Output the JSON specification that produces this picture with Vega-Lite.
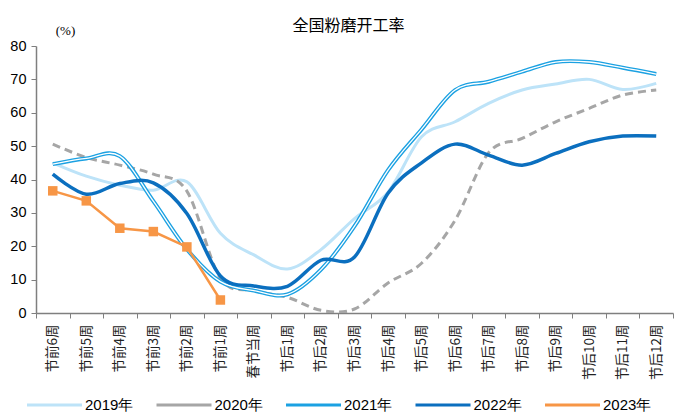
{
  "$schema": "https://vega.github.io/schema/vega-lite/v6.json",
  "width": 637,
  "height": 267,
  "autosize": {"type": "none"},
  "padding": {"left": 36, "top": 46, "right": 5, "bottom": 101},
  "background": "white",
  "title": {"text": "全国粉磨开工率", "font": "Noto Sans CJK SC", "fontSize": 16, "fontWeight": "normal", "color": "#000000", "anchor": "middle", "offset": -10, "dx": -6},
  "config": {"view": {"stroke": null}},
  "data": {"values": [
    {"week": "节前6周", "2019年": 45, "2020年": 50.6, "2021年": 44.6, "2022年": 41.6, "2023年": 36.6},
    {"week": "节前5周", "2019年": 41, "2020年": 46.6, "2021年": 46.3, "2022年": 35.6, "2023年": 33.6},
    {"week": "节前4周", "2019年": 38.3, "2020年": 44.3, "2021年": 47.0, "2022年": 38.8, "2023年": 25.4},
    {"week": "节前3周", "2019年": 36.8, "2020年": 41.6, "2021年": 33.5, "2022年": 39.0, "2023年": 24.4},
    {"week": "节前2周", "2019年": 39.3, "2020年": 36.5, "2021年": 19.1, "2022年": 29.8, "2023年": 19.8},
    {"week": "节前1周", "2019年": 23.9, "2020年": 10.4, "2021年": 9.4, "2022年": 11.1, "2023年": 3.9},
    {"week": "春节当周", "2019年": 17.4, "2020年": 6.7, "2021年": 6.7, "2022年": 8.1, "2023年": null},
    {"week": "节后1周", "2019年": 13.2, "2020年": 4.7, "2021年": 5.6, "2022年": 8.0, "2023年": null},
    {"week": "节后2周", "2019年": 19, "2020年": 0.8, "2021年": 13, "2022年": 15.8, "2023年": null},
    {"week": "节后3周", "2019年": 28.3, "2020年": 1.2, "2021年": 26, "2022年": 16.8, "2023年": null},
    {"week": "节后4周", "2019年": 36.2, "2020年": 9, "2021年": 42.8, "2022年": 35.9, "2023年": null},
    {"week": "节后5周", "2019年": 52.8, "2020年": 14.9, "2021年": 55, "2022年": 45, "2023年": null},
    {"week": "节后6周", "2019年": 57.3, "2020年": 27.8, "2021年": 66.8, "2022年": 50.6, "2023年": null},
    {"week": "节后7周", "2019年": 62.8, "2020年": 48, "2021年": 69.3, "2022年": 47.3, "2023年": null},
    {"week": "节后8周", "2019年": 66.8, "2020年": 52.3, "2021年": 72.3, "2022年": 44.3, "2023年": null},
    {"week": "节后9周", "2019年": 68.6, "2020年": 57.3, "2021年": 75.2, "2022年": 47.8, "2023年": null},
    {"week": "节后10周", "2019年": 70, "2020年": 61.3, "2021年": 75.2, "2022年": 51.3, "2023年": null},
    {"week": "节后11周", "2019年": 67, "2020年": 65.3, "2021年": 73.5, "2022年": 53, "2023年": null},
    {"week": "节后12周", "2019年": 68.8, "2020年": 66.8, "2021年": 71.6, "2022年": 53, "2023年": null}
  ]},
  "transform": [{"fold": ["2019年", "2020年", "2021年", "2022年", "2023年"], "as": ["year", "value"]}],
  "encoding": {
    "x": {
      "field": "week", "type": "nominal", "bandPosition": 0.5,
      "sort": ["节前6周","节前5周","节前4周","节前3周","节前2周","节前1周","春节当周","节后1周","节后2周","节后3周","节后4周","节后5周","节后6周","节后7周","节后8周","节后9周","节后10周","节后11周","节后12周"],
      "scale": {"type": "band", "paddingInner": 0, "paddingOuter": 0},
      "axis": {"title": null, "labelAngle": 270, "labelFont": "Noto Sans CJK SC", "labelFontSize": 13.5, "labelColor": "#222222", "labelPadding": 6, "tickBand": "extent", "tickSize": 5, "tickColor": "#7f7f7f", "domainColor": "#7f7f7f", "domainWidth": 1.5, "grid": false}
    },
    "y": {
      "field": "value", "type": "quantitative",
      "scale": {"domain": [0, 80], "nice": false},
      "axis": {"title": "(%)", "titleAngle": 0, "titleX": 29, "titleY": -16, "titleAlign": "center", "titleBaseline": "middle", "titleFont": "Liberation Serif", "titleFontSize": 13, "titleFontWeight": "normal", "titleColor": "#000000", "values": [0, 10, 20, 30, 40, 50, 60, 70, 80], "grid": false, "tickSize": 5, "tickColor": "#7f7f7f", "domainColor": "#7f7f7f", "domainWidth": 1.5, "labelFont": "Liberation Sans", "labelFontSize": 14.5, "labelColor": "#000000", "labelPadding": 5}
    },
    "color": {
      "field": "year", "type": "nominal",
      "scale": {"domain": ["2019年", "2020年", "2021年", "2022年", "2023年"], "range": ["#bde3f8", "#a6a6a6", "#1ba1e2", "#0b6fbf", "#f79646"]},
      "legend": {
        "title": null, "orient": "none", "legendX": -10.5, "legendY": 351, "direction": "horizontal", "columns": 5,
        "symbolType": "stroke", "symbolSize": 3025, "symbolStrokeWidth": 3, "symbolOpacity": 1, "clipHeight": 16,
        "labelFont": "Liberation Sans", "labelFontSize": 15, "labelColor": "#000000", "labelOffset": 1.5, "columnPadding": 21.5
      }
    }
  },
  "layer": [
    {"transform": [{"filter": "datum.year === '2019年'"}], "mark": {"type": "line", "interpolate": "cardinal", "strokeWidth": 3, "clip": true}},
    {"transform": [{"filter": "datum.year === '2020年'"}], "mark": {"type": "line", "interpolate": "cardinal", "strokeWidth": 3, "strokeDash": [8, 5], "clip": true}},
    {"transform": [{"filter": "datum.year === '2021年'"}], "mark": {"type": "line", "interpolate": "cardinal", "strokeWidth": 4, "clip": true}},
    {"transform": [{"filter": "datum.year === '2021年'"}], "mark": {"type": "line", "interpolate": "cardinal", "strokeWidth": 1.3, "clip": true}, "encoding": {"color": {"value": "#ffffff"}}},
    {"transform": [{"filter": "datum.year === '2022年'"}], "mark": {"type": "line", "interpolate": "cardinal", "strokeWidth": 3.5, "clip": true}},
    {"transform": [{"filter": "datum.year === '2023年' && datum.value != null"}], "mark": {"type": "line", "interpolate": "linear", "strokeWidth": 2.5}},
    {"transform": [{"filter": "datum.year === '2023年' && datum.value != null"}], "mark": {"type": "point", "shape": "square", "filled": true, "size": 90, "opacity": 1}}
  ]
}
